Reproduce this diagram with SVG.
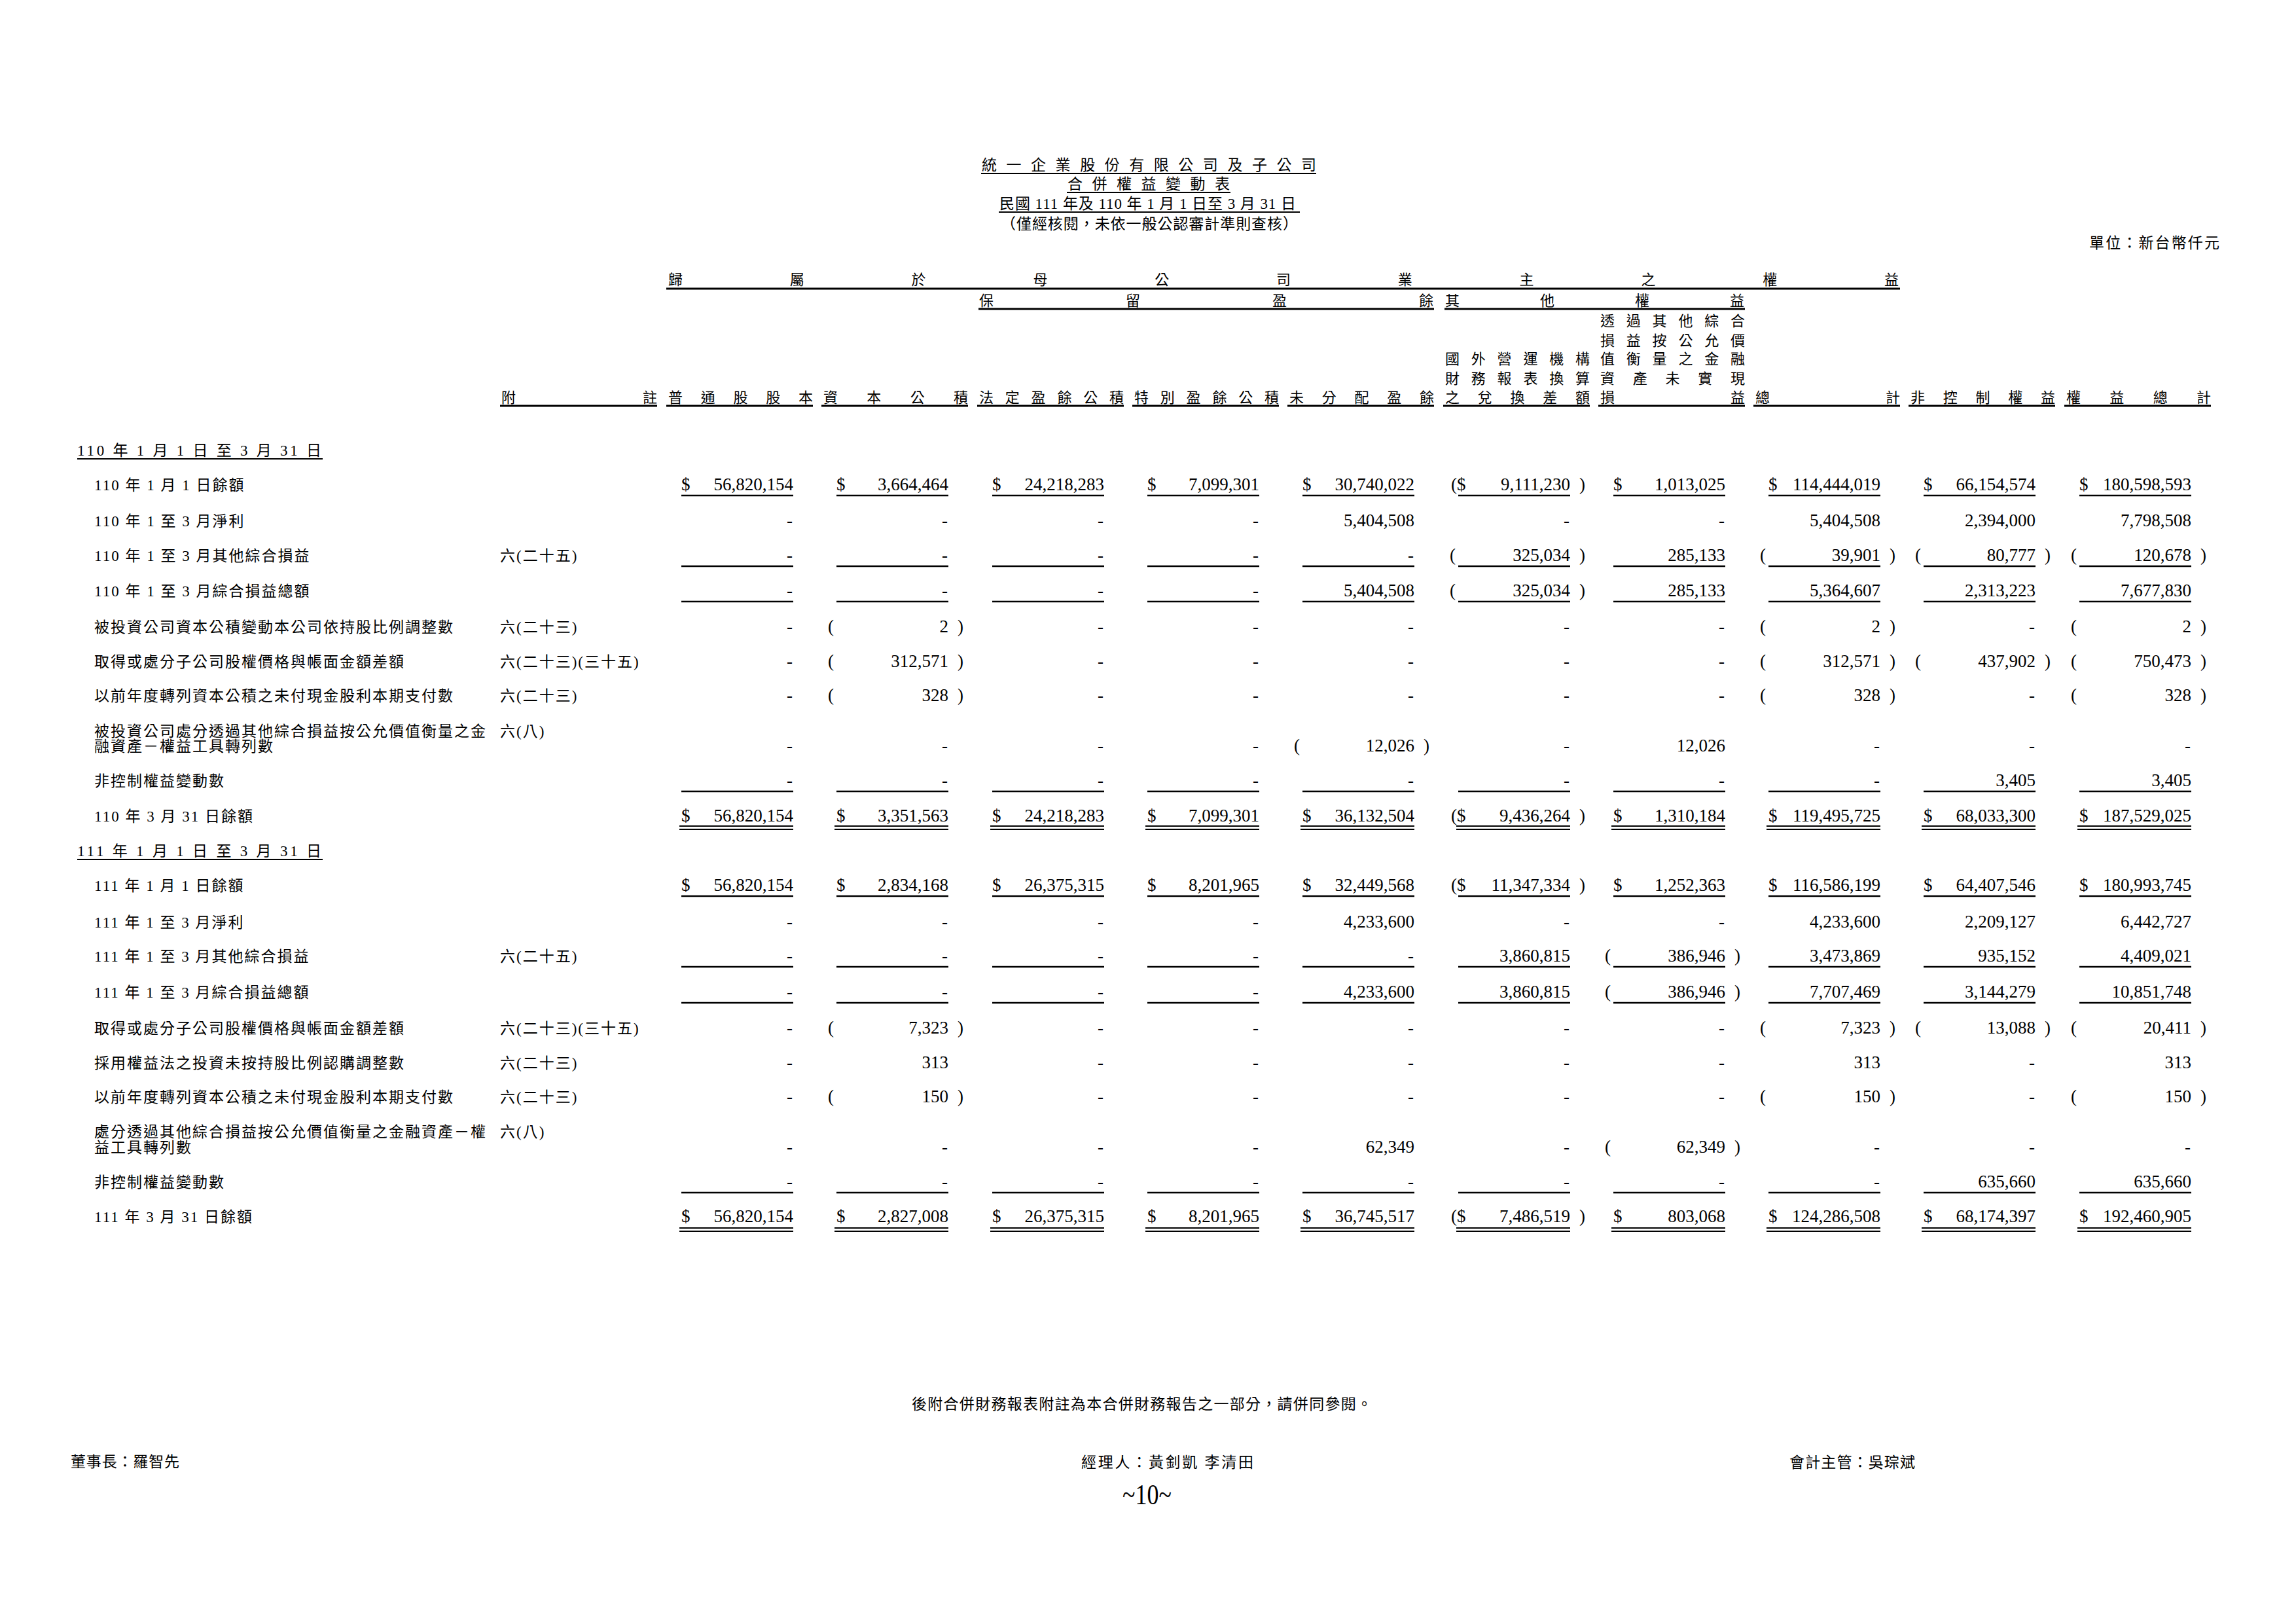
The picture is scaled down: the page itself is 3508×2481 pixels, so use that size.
<svg xmlns="http://www.w3.org/2000/svg" xmlns:xlink="http://www.w3.org/1999/xlink" width="3508" height="2481" viewBox="0 0 3508 2481">
<style>
.t{font-family:'Liberation Serif','Noto Sans CJK TC',serif;fill:#000}
.ti{font-size:23px}
.hd{font-size:22px}
.lb{font-family:'Liberation Serif','Noto Sans CJK TC',serif;font-size:23px;letter-spacing:2px}
.n{font-family:'Liberation Serif',serif;font-size:27px;text-anchor:end}
.p{font-family:'Liberation Serif',serif;font-size:27px}
.ln{stroke:#000;stroke-width:2;fill:none}
.lh{stroke:#000;stroke-width:3;fill:none}
</style>
<defs>
<path id="ul" d="M1041 0H1212M1278 0H1449M1516 0H1687M1753 0H1924M1990 0H2161M2228 0H2399M2465 0H2636M2702 0H2873M2939 0H3110M3177 0H3348" stroke="#000" stroke-width="2.5" fill="none"/>
<path id="ud" d="M1038 0H1212M1275 0H1449M1513 0H1687M1750 0H1924M1987 0H2161M2225 0H2399M2462 0H2636M2699 0H2873M2936 0H3110M3174 0H3348" stroke="#000" stroke-width="2.2" fill="none"/>
</defs>
<rect width="3508" height="2481" fill="#fff"/>

<g id="title">
<text class="t ti" x="1500" y="260" textLength="511" lengthAdjust="spacing">統一企業股份有限公司及子公司</text>
<path class="ln" d="M1499 265H2011"/>
<text class="t ti" x="1631" y="289" textLength="248" lengthAdjust="spacing">合併權益變動表</text>
<path class="ln" d="M1630 294H1880"/>
<text class="t ti" x="1527" y="319" textLength="453" lengthAdjust="spacing">民國 111 年及 110 年 1 月 1 日至 3 月 31 日</text>
<path class="ln" d="M1526 324H1986"/>
<text class="t ti" x="1529" y="350" textLength="454" lengthAdjust="spacing">（僅經核閱，未依一般公認審計準則查核）</text>
<text class="t ti" x="3192" y="379" textLength="199" lengthAdjust="spacing">單位：新台幣仟元</text>
</g>

<g id="header">
<text class="t hd" x="1021" y="435" textLength="1880" lengthAdjust="spacing">歸屬於母公司業主之權益</text>
<path class="lh" d="M1018 441H2903"/>
<text class="t hd" x="1496" y="467" textLength="694" lengthAdjust="spacing">保留盈餘</text>
<text class="t hd" x="2208" y="467" textLength="457" lengthAdjust="spacing">其他權益</text>
<path class="lh" d="M1495 472H2191M2207 472H2666"/>
<text class="t hd" x="2445" y="498" textLength="221" lengthAdjust="spacing">透過其他綜合</text>
<text class="t hd" x="2445" y="528" textLength="221" lengthAdjust="spacing">損益按公允價</text>
<text class="t hd" x="2208" y="556" textLength="221" lengthAdjust="spacing">國外營運機構</text>
<text class="t hd" x="2445" y="556" textLength="221" lengthAdjust="spacing">值衡量之金融</text>
<text class="t hd" x="2208" y="586" textLength="221" lengthAdjust="spacing">財務報表換算</text>
<text class="t hd" x="2445" y="586" textLength="221" lengthAdjust="spacing">資產未實現</text>
<text class="t hd" x="766" y="615" textLength="238" lengthAdjust="spacing">附註</text>
<text class="t hd" x="1021" y="615" textLength="221" lengthAdjust="spacing">普通股股本</text>
<text class="t hd" x="1258" y="615" textLength="221" lengthAdjust="spacing">資本公積</text>
<text class="t hd" x="1496" y="615" textLength="221" lengthAdjust="spacing">法定盈餘公積</text>
<text class="t hd" x="1733" y="615" textLength="221" lengthAdjust="spacing">特別盈餘公積</text>
<text class="t hd" x="1970" y="615" textLength="221" lengthAdjust="spacing">未分配盈餘</text>
<text class="t hd" x="2208" y="615" textLength="221" lengthAdjust="spacing">之兌換差額</text>
<text class="t hd" x="2445" y="615" textLength="221" lengthAdjust="spacing">損益</text>
<text class="t hd" x="2682" y="615" textLength="221" lengthAdjust="spacing">總計</text>
<text class="t hd" x="2919" y="615" textLength="221" lengthAdjust="spacing">非控制權益</text>
<text class="t hd" x="3157" y="615" textLength="221" lengthAdjust="spacing">權益總計</text>
<path class="lh" d="M764 620H1004M1018 620H1242M1255 620H1479M1493 620H1717M1730 620H1954M1967 620H2191M2205 620H2429M2442 620H2666M2679 620H2903M2916 620H3140M3154 620H3378"/>
</g>

<g id="section-110">
<text class="t ti" x="118" y="696" textLength="373" lengthAdjust="spacing">110 年 1 月 1 日 至 3 月 31 日</text>
<path class="ln" d="M118 701H493"/>
</g>

<g id="r110-1" transform="translate(0,749)">
<text class="lb" x="144">110 年 1 月 1 日餘額</text>
<text class="p" x="1041">$</text><text class="n" x="1212">56,820,154</text>
<text class="p" x="1278">$</text><text class="n" x="1449">3,664,464</text>
<text class="p" x="1516">$</text><text class="n" x="1687">24,218,283</text>
<text class="p" x="1753">$</text><text class="n" x="1924">7,099,301</text>
<text class="p" x="1990">$</text><text class="n" x="2161">30,740,022</text>
<text class="p" x="2217">($</text><text class="n" x="2399">9,111,230</text><text class="p" x="2413">)</text>
<text class="p" x="2465">$</text><text class="n" x="2636">1,013,025</text>
<text class="p" x="2702">$</text><text class="n" x="2873">114,444,019</text>
<text class="p" x="2939">$</text><text class="n" x="3110">66,154,574</text>
<text class="p" x="3177">$</text><text class="n" x="3348">180,598,593</text>
<use xlink:href="#ul" href="#ul" y="8"/>
</g>

<g id="r110-2" transform="translate(0,804)">
<text class="lb" x="144">110 年 1 至 3 月淨利</text>
<text class="n" x="1211">-</text><text class="n" x="1448">-</text><text class="n" x="1686">-</text><text class="n" x="1923">-</text>
<text class="n" x="2161">5,404,508</text>
<text class="n" x="2398">-</text><text class="n" x="2635">-</text>
<text class="n" x="2873">5,404,508</text>
<text class="n" x="3110">2,394,000</text>
<text class="n" x="3348">7,798,508</text>
</g>

<g id="r110-3" transform="translate(0,857)">
<text class="lb" x="144">110 年 1 至 3 月其他綜合損益</text>
<text class="lb" x="764">六(二十五)</text>
<text class="n" x="1211">-</text><text class="n" x="1448">-</text><text class="n" x="1686">-</text><text class="n" x="1923">-</text><text class="n" x="2160">-</text>
<text class="p" x="2215">(</text><text class="n" x="2399">325,034</text><text class="p" x="2413">)</text>
<text class="n" x="2636">285,133</text>
<text class="p" x="2689">(</text><text class="n" x="2873">39,901</text><text class="p" x="2887">)</text>
<text class="p" x="2926">(</text><text class="n" x="3110">80,777</text><text class="p" x="3124">)</text>
<text class="p" x="3164">(</text><text class="n" x="3348">120,678</text><text class="p" x="3362">)</text>
<use xlink:href="#ul" href="#ul" y="8"/>
</g>

<g id="r110-4" transform="translate(0,911)">
<text class="lb" x="144">110 年 1 至 3 月綜合損益總額</text>
<text class="n" x="1211">-</text><text class="n" x="1448">-</text><text class="n" x="1686">-</text><text class="n" x="1923">-</text>
<text class="n" x="2161">5,404,508</text>
<text class="p" x="2215">(</text><text class="n" x="2399">325,034</text><text class="p" x="2413">)</text>
<text class="n" x="2636">285,133</text>
<text class="n" x="2873">5,364,607</text>
<text class="n" x="3110">2,313,223</text>
<text class="n" x="3348">7,677,830</text>
<use xlink:href="#ul" href="#ul" y="8"/>
</g>

<g id="r110-5" transform="translate(0,966)">
<text class="lb" x="144">被投資公司資本公積變動本公司依持股比例調整數</text>
<text class="lb" x="764">六(二十三)</text>
<text class="n" x="1211">-</text>
<text class="p" x="1265">(</text><text class="n" x="1449">2</text><text class="p" x="1463">)</text>
<text class="n" x="1686">-</text><text class="n" x="1923">-</text><text class="n" x="2160">-</text><text class="n" x="2398">-</text><text class="n" x="2635">-</text>
<text class="p" x="2689">(</text><text class="n" x="2873">2</text><text class="p" x="2887">)</text>
<text class="n" x="3109">-</text>
<text class="p" x="3164">(</text><text class="n" x="3348">2</text><text class="p" x="3362">)</text>
</g>

<g id="r110-6" transform="translate(0,1019)">
<text class="lb" x="144">取得或處分子公司股權價格與帳面金額差額</text>
<text class="lb" x="764">六(二十三)(三十五)</text>
<text class="n" x="1211">-</text>
<text class="p" x="1265">(</text><text class="n" x="1449">312,571</text><text class="p" x="1463">)</text>
<text class="n" x="1686">-</text><text class="n" x="1923">-</text><text class="n" x="2160">-</text><text class="n" x="2398">-</text><text class="n" x="2635">-</text>
<text class="p" x="2689">(</text><text class="n" x="2873">312,571</text><text class="p" x="2887">)</text>
<text class="p" x="2926">(</text><text class="n" x="3110">437,902</text><text class="p" x="3124">)</text>
<text class="p" x="3164">(</text><text class="n" x="3348">750,473</text><text class="p" x="3362">)</text>
</g>

<g id="r110-7" transform="translate(0,1071)">
<text class="lb" x="144">以前年度轉列資本公積之未付現金股利本期支付數</text>
<text class="lb" x="764">六(二十三)</text>
<text class="n" x="1211">-</text>
<text class="p" x="1265">(</text><text class="n" x="1449">328</text><text class="p" x="1463">)</text>
<text class="n" x="1686">-</text><text class="n" x="1923">-</text><text class="n" x="2160">-</text><text class="n" x="2398">-</text><text class="n" x="2635">-</text>
<text class="p" x="2689">(</text><text class="n" x="2873">328</text><text class="p" x="2887">)</text>
<text class="n" x="3109">-</text>
<text class="p" x="3164">(</text><text class="n" x="3348">328</text><text class="p" x="3362">)</text>
</g>

<g id="r110-8" transform="translate(0,1148)">
<text class="lb" x="144" y="-23">被投資公司處分透過其他綜合損益按公允價值衡量之金</text>
<text class="lb" x="144">融資產－權益工具轉列數</text>
<text class="lb" x="764" y="-23">六(八)</text>
<text class="n" x="1211">-</text><text class="n" x="1448">-</text><text class="n" x="1686">-</text><text class="n" x="1923">-</text>
<text class="p" x="1977">(</text><text class="n" x="2161">12,026</text><text class="p" x="2175">)</text>
<text class="n" x="2398">-</text>
<text class="n" x="2636">12,026</text>
<text class="n" x="2872">-</text><text class="n" x="3109">-</text><text class="n" x="3347">-</text>
</g>

<g id="r110-9" transform="translate(0,1201)">
<text class="lb" x="144">非控制權益變動數</text>
<text class="n" x="1211">-</text><text class="n" x="1448">-</text><text class="n" x="1686">-</text><text class="n" x="1923">-</text><text class="n" x="2160">-</text><text class="n" x="2398">-</text><text class="n" x="2635">-</text><text class="n" x="2872">-</text>
<text class="n" x="3110">3,405</text>
<text class="n" x="3348">3,405</text>
<use xlink:href="#ul" href="#ul" y="8"/>
</g>

<g id="r110-10" transform="translate(0,1255)">
<text class="lb" x="144">110 年 3 月 31 日餘額</text>
<text class="p" x="1041">$</text><text class="n" x="1212">56,820,154</text>
<text class="p" x="1278">$</text><text class="n" x="1449">3,351,563</text>
<text class="p" x="1516">$</text><text class="n" x="1687">24,218,283</text>
<text class="p" x="1753">$</text><text class="n" x="1924">7,099,301</text>
<text class="p" x="1990">$</text><text class="n" x="2161">36,132,504</text>
<text class="p" x="2217">($</text><text class="n" x="2399">9,436,264</text><text class="p" x="2413">)</text>
<text class="p" x="2465">$</text><text class="n" x="2636">1,310,184</text>
<text class="p" x="2702">$</text><text class="n" x="2873">119,495,725</text>
<text class="p" x="2939">$</text><text class="n" x="3110">68,033,300</text>
<text class="p" x="3177">$</text><text class="n" x="3348">187,529,025</text>
<use xlink:href="#ud" href="#ud" y="7"/>
<use xlink:href="#ud" href="#ud" y="12"/>
</g>

<g id="section-111">
<text class="t ti" x="118" y="1308" textLength="373" lengthAdjust="spacing">111 年 1 月 1 日 至 3 月 31 日</text>
<path class="ln" d="M118 1313H493"/>
</g>

<g id="r111-1" transform="translate(0,1361)">
<text class="lb" x="144">111 年 1 月 1 日餘額</text>
<text class="p" x="1041">$</text><text class="n" x="1212">56,820,154</text>
<text class="p" x="1278">$</text><text class="n" x="1449">2,834,168</text>
<text class="p" x="1516">$</text><text class="n" x="1687">26,375,315</text>
<text class="p" x="1753">$</text><text class="n" x="1924">8,201,965</text>
<text class="p" x="1990">$</text><text class="n" x="2161">32,449,568</text>
<text class="p" x="2217">($</text><text class="n" x="2399">11,347,334</text><text class="p" x="2413">)</text>
<text class="p" x="2465">$</text><text class="n" x="2636">1,252,363</text>
<text class="p" x="2702">$</text><text class="n" x="2873">116,586,199</text>
<text class="p" x="2939">$</text><text class="n" x="3110">64,407,546</text>
<text class="p" x="3177">$</text><text class="n" x="3348">180,993,745</text>
<use xlink:href="#ul" href="#ul" y="8"/>
</g>

<g id="r111-2" transform="translate(0,1417)">
<text class="lb" x="144">111 年 1 至 3 月淨利</text>
<text class="n" x="1211">-</text><text class="n" x="1448">-</text><text class="n" x="1686">-</text><text class="n" x="1923">-</text>
<text class="n" x="2161">4,233,600</text>
<text class="n" x="2398">-</text><text class="n" x="2635">-</text>
<text class="n" x="2873">4,233,600</text>
<text class="n" x="3110">2,209,127</text>
<text class="n" x="3348">6,442,727</text>
</g>

<g id="r111-3" transform="translate(0,1469)">
<text class="lb" x="144">111 年 1 至 3 月其他綜合損益</text>
<text class="lb" x="764">六(二十五)</text>
<text class="n" x="1211">-</text><text class="n" x="1448">-</text><text class="n" x="1686">-</text><text class="n" x="1923">-</text><text class="n" x="2160">-</text>
<text class="n" x="2399">3,860,815</text>
<text class="p" x="2452">(</text><text class="n" x="2636">386,946</text><text class="p" x="2650">)</text>
<text class="n" x="2873">3,473,869</text>
<text class="n" x="3110">935,152</text>
<text class="n" x="3348">4,409,021</text>
<use xlink:href="#ul" href="#ul" y="8"/>
</g>

<g id="r111-4" transform="translate(0,1524)">
<text class="lb" x="144">111 年 1 至 3 月綜合損益總額</text>
<text class="n" x="1211">-</text><text class="n" x="1448">-</text><text class="n" x="1686">-</text><text class="n" x="1923">-</text>
<text class="n" x="2161">4,233,600</text>
<text class="n" x="2399">3,860,815</text>
<text class="p" x="2452">(</text><text class="n" x="2636">386,946</text><text class="p" x="2650">)</text>
<text class="n" x="2873">7,707,469</text>
<text class="n" x="3110">3,144,279</text>
<text class="n" x="3348">10,851,748</text>
<use xlink:href="#ul" href="#ul" y="8"/>
</g>

<g id="r111-5" transform="translate(0,1579)">
<text class="lb" x="144">取得或處分子公司股權價格與帳面金額差額</text>
<text class="lb" x="764">六(二十三)(三十五)</text>
<text class="n" x="1211">-</text>
<text class="p" x="1265">(</text><text class="n" x="1449">7,323</text><text class="p" x="1463">)</text>
<text class="n" x="1686">-</text><text class="n" x="1923">-</text><text class="n" x="2160">-</text><text class="n" x="2398">-</text><text class="n" x="2635">-</text>
<text class="p" x="2689">(</text><text class="n" x="2873">7,323</text><text class="p" x="2887">)</text>
<text class="p" x="2926">(</text><text class="n" x="3110">13,088</text><text class="p" x="3124">)</text>
<text class="p" x="3164">(</text><text class="n" x="3348">20,411</text><text class="p" x="3362">)</text>
</g>

<g id="r111-6" transform="translate(0,1632)">
<text class="lb" x="144">採用權益法之投資未按持股比例認購調整數</text>
<text class="lb" x="764">六(二十三)</text>
<text class="n" x="1211">-</text>
<text class="n" x="1449">313</text>
<text class="n" x="1686">-</text><text class="n" x="1923">-</text><text class="n" x="2160">-</text><text class="n" x="2398">-</text><text class="n" x="2635">-</text>
<text class="n" x="2873">313</text>
<text class="n" x="3109">-</text>
<text class="n" x="3348">313</text>
</g>

<g id="r111-7" transform="translate(0,1684)">
<text class="lb" x="144">以前年度轉列資本公積之未付現金股利本期支付數</text>
<text class="lb" x="764">六(二十三)</text>
<text class="n" x="1211">-</text>
<text class="p" x="1265">(</text><text class="n" x="1449">150</text><text class="p" x="1463">)</text>
<text class="n" x="1686">-</text><text class="n" x="1923">-</text><text class="n" x="2160">-</text><text class="n" x="2398">-</text><text class="n" x="2635">-</text>
<text class="p" x="2689">(</text><text class="n" x="2873">150</text><text class="p" x="2887">)</text>
<text class="n" x="3109">-</text>
<text class="p" x="3164">(</text><text class="n" x="3348">150</text><text class="p" x="3362">)</text>
</g>

<g id="r111-8" transform="translate(0,1761)">
<text class="lb" x="144" y="-24">處分透過其他綜合損益按公允價值衡量之金融資產－權</text>
<text class="lb" x="144">益工具轉列數</text>
<text class="lb" x="764" y="-24">六(八)</text>
<text class="n" x="1211">-</text><text class="n" x="1448">-</text><text class="n" x="1686">-</text><text class="n" x="1923">-</text>
<text class="n" x="2161">62,349</text>
<text class="n" x="2398">-</text>
<text class="p" x="2452">(</text><text class="n" x="2636">62,349</text><text class="p" x="2650">)</text>
<text class="n" x="2872">-</text><text class="n" x="3109">-</text><text class="n" x="3347">-</text>
</g>

<g id="r111-9" transform="translate(0,1814)">
<text class="lb" x="144">非控制權益變動數</text>
<text class="n" x="1211">-</text><text class="n" x="1448">-</text><text class="n" x="1686">-</text><text class="n" x="1923">-</text><text class="n" x="2160">-</text><text class="n" x="2398">-</text><text class="n" x="2635">-</text><text class="n" x="2872">-</text>
<text class="n" x="3110">635,660</text>
<text class="n" x="3348">635,660</text>
<use xlink:href="#ul" href="#ul" y="8"/>
</g>

<g id="r111-10" transform="translate(0,1867)">
<text class="lb" x="144">111 年 3 月 31 日餘額</text>
<text class="p" x="1041">$</text><text class="n" x="1212">56,820,154</text>
<text class="p" x="1278">$</text><text class="n" x="1449">2,827,008</text>
<text class="p" x="1516">$</text><text class="n" x="1687">26,375,315</text>
<text class="p" x="1753">$</text><text class="n" x="1924">8,201,965</text>
<text class="p" x="1990">$</text><text class="n" x="2161">36,745,517</text>
<text class="p" x="2217">($</text><text class="n" x="2399">7,486,519</text><text class="p" x="2413">)</text>
<text class="p" x="2465">$</text><text class="n" x="2636">803,068</text>
<text class="p" x="2702">$</text><text class="n" x="2873">124,286,508</text>
<text class="p" x="2939">$</text><text class="n" x="3110">68,174,397</text>
<text class="p" x="3177">$</text><text class="n" x="3348">192,460,905</text>
<use xlink:href="#ud" href="#ud" y="9"/>
<use xlink:href="#ud" href="#ud" y="14"/>
</g>

<g id="footer">
<text class="t ti" x="1393" y="2153" textLength="703" lengthAdjust="spacing">後附合併財務報表附註為本合併財務報告之一部分，請併同參閱。</text>
<text class="t ti" x="108" y="2241" textLength="166" lengthAdjust="spacing">董事長：羅智先</text>
<text class="t ti" x="1652" y="2242" textLength="263" lengthAdjust="spacing">經理人：黃釗凱 李清田</text>
<text class="t ti" x="2734" y="2242" textLength="192" lengthAdjust="spacing">會計主管：吳琮斌</text>
<text class="t" x="1715" y="2298" font-size="44" textLength="75" lengthAdjust="spacingAndGlyphs">~10~</text>
</g>
</svg>
